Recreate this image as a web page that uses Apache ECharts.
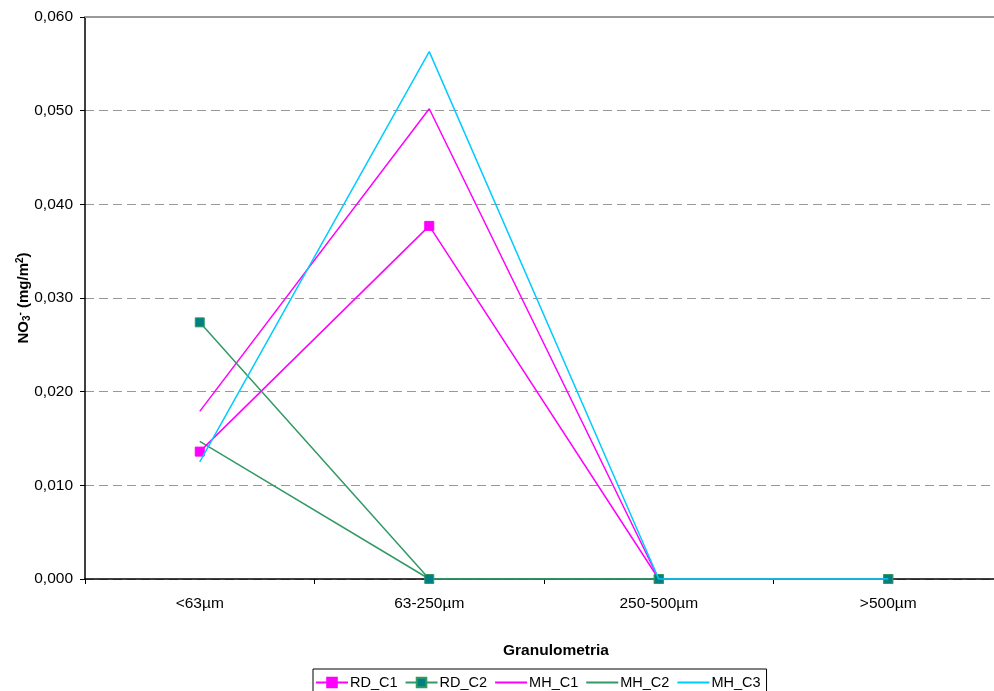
<!DOCTYPE html>
<html><head><meta charset="utf-8">
<script src="https://cdn.jsdelivr.net/npm/echarts@6/dist/echarts.min.js"></script>
<style>html,body{margin:0;padding:0;background:#fff;overflow:hidden}#c{width:994px;height:691px}</style>
</head><body><div id="c"></div>
<script>
const categories = ['<63µm', '63-250µm', '250-500µm', '>500µm'];
const RD_C1 = [0.0136, 0.0377, 0, 0];
const RD_C2 = [0.0274, 0, 0, 0];
const MH_C1 = [0.0179, 0.0502, 0, 0];
const MH_C2 = [0.0147, 0, 0, 0];
const MH_C3 = [0.0125, 0.0563, 0, 0];
const yTicks = { min: 0, max: 0.06, interval: 0.01 };

const FONT = '"Liberation Sans", Arial, sans-serif';
const FS = 15.5;
const chart = echarts.init(document.getElementById('c'), null, { renderer: 'canvas' });
const hideSym = { color: 'rgba(0,0,0,0)', borderWidth: 0, opacity: 0 };
chart.setOption({
  animation: false,
  textStyle: { fontFamily: FONT },
  grid: { left: 85, top: 17, width: 918, height: 562, outerBoundsMode: 'none', containLabel: false },
  legend: {
    left: 313, top: 669,
    padding: [6, 6, 8, 2],
    borderColor: '#000', borderWidth: 1,
    itemWidth: 32, itemHeight: 12, itemGap: 7,
    textStyle: { fontFamily: FONT, fontSize: 14.5, color: '#000', padding: [0, 0, 0, -3] },
    data: [
      { name: 'RD_C1' },
      { name: 'RD_C2' },
      { name: 'MH_C1', itemStyle: hideSym },
      { name: 'MH_C2', itemStyle: hideSym },
      { name: 'MH_C3', itemStyle: hideSym }
    ]
  },
  xAxis: [{
    type: 'category', data: categories, boundaryGap: true,
    name: 'Granulometria', nameLocation: 'middle', nameGap: 64, nameMoveOverlap: false,
    nameTextStyle: { fontFamily: FONT, fontSize: FS, fontWeight: 'bold', color: '#000', padding: [0, 0, 0, 24] },
    axisLine: { lineStyle: { color: '#000', width: 1.5 } },
    axisTick: { show: true, alignWithLabel: false, interval: 0, length: 5, lineStyle: { color: '#000' } },
    axisLabel: { fontFamily: FONT, fontSize: FS, color: '#000', margin: 17, interval: 0 },
    splitLine: { show: false }
  }, {
    type: 'category', data: categories, position: 'top',
    axisLine: { show: true, lineStyle: { color: '#999', width: 2 } },
    axisTick: { show: false }, axisLabel: { show: false }, splitLine: { show: false }
  }],
  yAxis: {
    type: 'value', min: yTicks.min, max: yTicks.max, interval: yTicks.interval,
    name: '{b|NO}{sub|3}{sup|-}{b| (mg/m}{sup|2}{b|)}',
    nameLocation: 'middle', nameGap: 53, nameRotate: 90, nameMoveOverlap: false,
    nameTextStyle: {
      rich: {
        b: { fontFamily: FONT, fontSize: 15, fontWeight: 'bold', color: '#000' },
        sub: { fontFamily: FONT, fontSize: 10, fontWeight: 'bold', color: '#000', verticalAlign: 'bottom', padding: [7, 0, 0, 0] },
        sup: { fontFamily: FONT, fontSize: 10, fontWeight: 'bold', color: '#000', verticalAlign: 'top', padding: [0, 0, 7, 0] }
      }
    },
    axisLine: { show: true, lineStyle: { color: '#000', width: 1.5 } },
    axisTick: { show: true, length: 5, lineStyle: { color: '#000' } },
    axisLabel: { fontFamily: FONT, fontSize: FS, color: '#000', margin: 12,
      formatter: v => v.toFixed(3).replace('.', ',') },
    splitLine: { show: true, lineStyle: { color: '#999', type: [9, 5], width: 1 } }
  },
  series: [
    { name: 'MH_C1', type: 'line', data: MH_C1, symbol: 'none', z: 2,
      lineStyle: { color: '#FF00FF', width: 1.5 }, itemStyle: { color: '#FF00FF' } },
    { name: 'MH_C2', type: 'line', data: MH_C2, symbol: 'none', z: 2,
      lineStyle: { color: '#339966', width: 1.5 }, itemStyle: { color: '#339966' } },
    { name: 'RD_C1', type: 'line', data: RD_C1, symbol: 'rect', symbolSize: 9, z: 3,
      lineStyle: { color: '#FF00FF', width: 1.5 }, itemStyle: { color: '#FF00FF', borderColor: '#FF00FF', borderWidth: 1 } },
    { name: 'RD_C2', type: 'line', data: RD_C2, symbol: 'rect', symbolSize: 9, z: 4,
      lineStyle: { color: '#339966', width: 1.5 }, itemStyle: { color: '#008080', borderColor: '#339966', borderWidth: 1 } },
    { name: 'MH_C3', type: 'line', data: MH_C3, symbol: 'none', z: 5,
      lineStyle: { color: '#00CCFF', width: 1.5 }, itemStyle: { color: '#00CCFF' } }
  ]
});
</script></body></html>
